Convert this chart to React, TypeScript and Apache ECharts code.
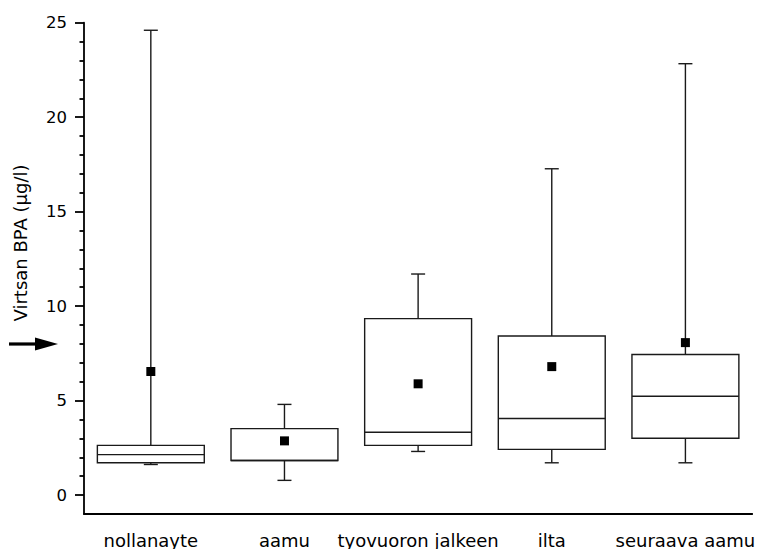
import React, { useEffect, useRef } from "react";
import * as echarts from "echarts";

const categories = ["nollanayte", "aamu", "tyovuoron jalkeen", "ilta", "seuraava aamu"];
// whisker low, Q1, median, Q3, whisker high
const whiskerLow = [1.62, 0.78, 2.31, 1.71, 1.71];
const q1Values = [1.71, 1.83, 2.63, 2.42, 3.01];
const medianValues = [2.14, 1.83, 3.33, 4.05, 5.23];
const q3Values = [2.63, 3.52, 9.34, 8.42, 7.44];
const whiskerHigh = [24.6, 4.8, 11.7, 17.27, 22.83];
const meanValues = [6.54, 2.87, 5.89, 6.8, 8.07];
const majorTicks = [0, 5, 10, 15, 20, 25];
const minorTicks = [1, 2, 3, 4, 6, 7, 8, 9, 11, 12, 13, 14, 16, 17, 18, 19, 21, 22, 23, 24];
const yTitle = "Virtsan BPA (µg/l)";

const FONT = "DejaVu Sans";

export default function App() {
  const ref = useRef<HTMLDivElement>(null);
  useEffect(() => {
    if (!ref.current) return;
    const chart = echarts.init(ref.current, undefined, { renderer: "svg" });
    const boxData = categories.map((_, i) => [
      i,
      whiskerLow[i],
      q1Values[i],
      medianValues[i],
      q3Values[i],
      whiskerHigh[i],
    ]);
    const lineStyle = { stroke: "#1a1a1a", lineWidth: 1.4, fill: null };
    chart.setOption({
      animation: false,
      backgroundColor: "#fff",
      grid: { left: 84, right: 3, top: 22.7, bottom: 35, containLabel: false },
      xAxis: {
        type: "category",
        data: categories,
        boundaryGap: true,
        axisLine: { onZero: false, lineStyle: { color: "#000", width: 1.8 } },
        axisTick: { alignWithLabel: true, length: 9, lineStyle: { color: "#000", width: 1.8 } },
        axisLabel: { color: "#000", fontSize: 18, fontFamily: FONT, margin: 17, interval: 0 },
        splitLine: { show: false },
      },
      yAxis: [
        {
          type: "value",
          min: -1,
          max: 25,
          axisLine: { show: true, lineStyle: { color: "#000", width: 1.8 } },
          axisTick: { show: true, length: 9, customValues: majorTicks, lineStyle: { color: "#000", width: 1.8 } },
          axisLabel: { color: "#000", fontSize: 16.5, fontFamily: FONT, margin: 17, customValues: majorTicks },
          splitLine: { show: false },
        },
        {
          type: "value",
          min: -1,
          max: 25,
          position: "left",
          axisLine: { show: false },
          axisTick: { show: true, length: 4.5, customValues: minorTicks, lineStyle: { color: "#000", width: 1.8 } },
          axisLabel: { show: false },
          splitLine: { show: false },
        },
      ],
      series: [
        {
          type: "custom",
          yAxisIndex: 0,
          data: boxData,
          encode: { x: 0, y: [1, 2, 3, 4, 5] },
          renderItem: (params: any, api: any) => {
            const idx = api.value(0);
            const lo = api.coord([idx, api.value(1)]);
            const q1 = api.coord([idx, api.value(2)]);
            const med = api.coord([idx, api.value(3)]);
            const q3 = api.coord([idx, api.value(4)]);
            const hi = api.coord([idx, api.value(5)]);
            const cx = lo[0];
            const bw = api.size([1, 0])[0] * 0.8;
            const cw = 14;
            return {
              type: "group",
              children: [
                { type: "line", shape: { x1: cx, y1: hi[1], x2: cx, y2: q3[1] }, style: lineStyle },
                { type: "line", shape: { x1: cx, y1: q1[1], x2: cx, y2: lo[1] }, style: lineStyle },
                { type: "line", shape: { x1: cx - cw / 2, y1: hi[1], x2: cx + cw / 2, y2: hi[1] }, style: lineStyle },
                { type: "line", shape: { x1: cx - cw / 2, y1: lo[1], x2: cx + cw / 2, y2: lo[1] }, style: lineStyle },
                {
                  type: "rect",
                  shape: { x: cx - bw / 2, y: q3[1], width: bw, height: q1[1] - q3[1] },
                  style: { stroke: "#1a1a1a", lineWidth: 1.4, fill: "#fff" },
                },
                { type: "line", shape: { x1: cx - bw / 2, y1: med[1], x2: cx + bw / 2, y2: med[1] }, style: lineStyle },
              ],
            };
          },
          z: 2,
        },
        {
          type: "scatter",
          yAxisIndex: 0,
          data: meanValues,
          symbol: "rect",
          symbolSize: 9,
          itemStyle: { color: "#000", opacity: 1 },
          z: 3,
        },
      ],
      graphic: [
        {
          type: "text",
          x: 20,
          y: 243,
          rotation: Math.PI / 2,
          style: {
            text: yTitle,
            fill: "#000",
            font: `18px "${FONT}"`,
            textAlign: "center",
            textVerticalAlign: "middle",
          },
        },
        {
          type: "line",
          shape: { x1: 9, y1: 344, x2: 40, y2: 344 },
          style: { stroke: "#000", lineWidth: 3.2 },
        },
        {
          type: "polygon",
          shape: { points: [[35, 337.5], [58, 344], [35, 350.5]] },
          style: { fill: "#000" },
        },
      ],
    });
    return () => chart.dispose();
  }, []);
  return (
    <div
      ref={ref}
      style={{ position: "fixed", left: 0, top: 0, width: 758, height: 549 }}
    />
  );
}
